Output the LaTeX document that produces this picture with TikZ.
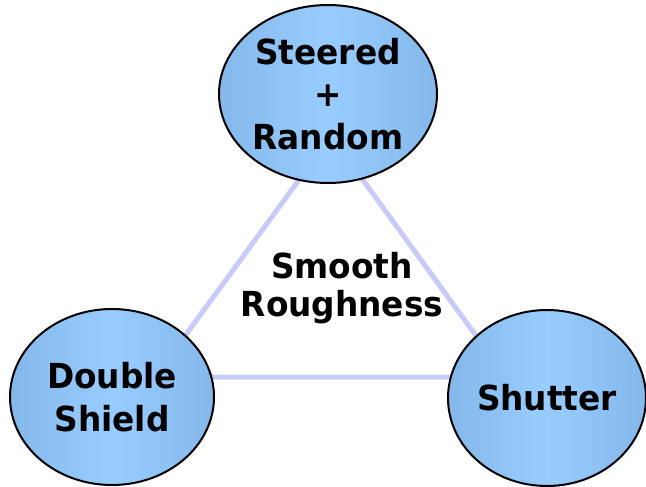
\documentclass[tikz,border=0pt]{standalone}
\usepackage{fontspec}
\setmainfont{DejaVu Sans}
\newfontfamily\lblfont[FakeStretch=0.95]{DejaVu Sans}
\usetikzlibrary{shapes.geometric}
\definecolor{edgeblue}{RGB}{132,184,234}
\definecolor{midblue}{RGB}{153,204,255}
\definecolor{triline}{RGB}{200,202,248}
\tikzset{
  bubble/.style={ellipse, draw=black, line width=2pt, inner sep=0pt,
    left color=edgeblue, right color=edgeblue, middle color=midblue,
    align=center, font=\lblfont\fontsize{34.5}{42.5}\selectfont\bfseries},
  tri/.style={draw=triline, line width=5pt},
  lbl/.style={align=center, inner sep=0pt, font=\lblfont\fontsize{34.5}{38}\selectfont\bfseries}
}
\begin{document}
\begin{tikzpicture}[x=1pt,y=-1pt]
\useasboundingbox (0,0) rectangle (646,487);
\coordinate (apex) at (331,136);
\coordinate (bl) at (155,377);
\coordinate (br) at (506,377);
\draw[tri] (apex) -- (bl) -- (br) -- cycle;
\node[bubble, minimum width=218, minimum height=178] (top) at (328,94) {Steered\\+\\Random};
\node[bubble, minimum width=204, minimum height=176] (left) at (112,397) {Double\\Shield};
\node[bubble, minimum width=196, minimum height=176] (right) at (547,398) {Shutter};
\node[lbl] (center) at (342,288) {Smooth\\Roughness};
\end{tikzpicture}
\end{document}
